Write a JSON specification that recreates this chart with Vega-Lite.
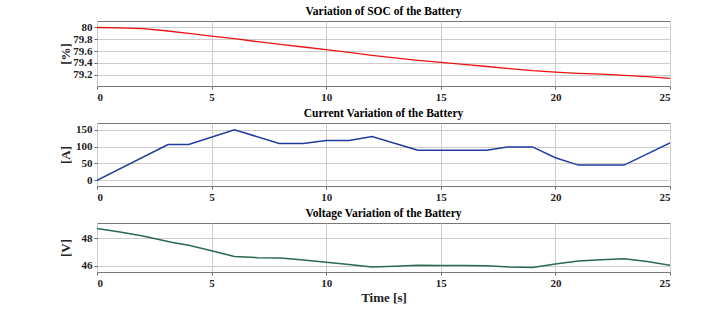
{
  "$schema": "https://vega.github.io/schema/vega-lite/v6.json",
  "background": "white",
  "padding": {"left": 58, "top": 5, "right": 40, "bottom": 5},
  "spacing": 4,
  "datasets": {
    "soc": [
      {"t": 0, "v": 80.0}, {"t": 1, "v": 79.995}, {"t": 2, "v": 79.98}, {"t": 3, "v": 79.945},
      {"t": 4, "v": 79.9}, {"t": 5, "v": 79.855}, {"t": 6, "v": 79.81}, {"t": 7, "v": 79.76},
      {"t": 8, "v": 79.715}, {"t": 9, "v": 79.67}, {"t": 10, "v": 79.625}, {"t": 11, "v": 79.58},
      {"t": 12, "v": 79.53}, {"t": 13, "v": 79.485}, {"t": 14, "v": 79.445}, {"t": 15, "v": 79.41},
      {"t": 16, "v": 79.375}, {"t": 17, "v": 79.34}, {"t": 18, "v": 79.305}, {"t": 19, "v": 79.27},
      {"t": 20, "v": 79.245}, {"t": 21, "v": 79.225}, {"t": 22, "v": 79.21}, {"t": 23, "v": 79.19},
      {"t": 24, "v": 79.17}, {"t": 25, "v": 79.14}
    ],
    "current": [
      {"t": 0, "v": 0}, {"t": 3.1, "v": 106}, {"t": 4, "v": 106}, {"t": 6, "v": 150},
      {"t": 7.95, "v": 109}, {"t": 9, "v": 109}, {"t": 10, "v": 118}, {"t": 11, "v": 118},
      {"t": 12, "v": 130}, {"t": 14, "v": 89}, {"t": 17, "v": 89}, {"t": 17.9, "v": 99},
      {"t": 19, "v": 99}, {"t": 20, "v": 67}, {"t": 21, "v": 45}, {"t": 23, "v": 45},
      {"t": 25, "v": 111}
    ],
    "voltage": [
      {"t": 0, "v": 48.7}, {"t": 1, "v": 48.45}, {"t": 2, "v": 48.15}, {"t": 2.7, "v": 47.9},
      {"t": 3.3, "v": 47.68}, {"t": 4, "v": 47.48}, {"t": 5, "v": 47.08}, {"t": 6, "v": 46.66},
      {"t": 7, "v": 46.58}, {"t": 8, "v": 46.55}, {"t": 9, "v": 46.42}, {"t": 10, "v": 46.25},
      {"t": 11, "v": 46.08}, {"t": 12, "v": 45.9}, {"t": 13, "v": 45.95}, {"t": 14, "v": 46.03},
      {"t": 15, "v": 46.02}, {"t": 16, "v": 46.01}, {"t": 17, "v": 46.0}, {"t": 18, "v": 45.9},
      {"t": 19, "v": 45.87}, {"t": 20, "v": 46.12}, {"t": 21, "v": 46.34}, {"t": 22, "v": 46.43},
      {"t": 23, "v": 46.5}, {"t": 24, "v": 46.3}, {"t": 25, "v": 46.03}
    ]
  },
  "config": {
    "font": "Liberation Serif",
    "view": {"stroke": "#777777", "strokeWidth": 1},
    "title": {"font": "Liberation Serif", "fontSize": 11.5, "fontWeight": "bold", "color": "#000000", "offset": 4},
    "axis": {
      "labelFont": "Liberation Serif", "labelFontSize": 11, "labelFontWeight": "bold", "labelColor": "#222222",
      "titleFont": "Liberation Serif", "titleFontSize": 13, "titleFontWeight": "bold", "titleColor": "#222222",
      "domain": false, "ticks": true, "tickSize": 3, "tickColor": "#666666", "gridColor": "#cccccc", "gridWidth": 1, "gridOpacity": 1,
      "labelPadding": 2, "labelOverlap": false
    },
    "axisY": {"minExtent": 22, "maxExtent": 22, "titlePadding": 3}
  },
  "vconcat": [
    {
      "width": 573, "height": 65,
      "title": "Variation of SOC of the Battery",
      "data": {"name": "soc"},
      "mark": {"type": "line", "color": "#ee1111", "strokeWidth": 1.3, "clip": true},
      "encoding": {
        "x": {"field": "t", "type": "quantitative", "scale": {"domain": [0, 25], "nice": false}, "axis": {"values": [0, 5, 10, 15, 20, 25], "title": null}},
        "y": {"field": "v", "type": "quantitative", "scale": {"domain": [79.01, 80.11], "nice": false, "zero": false}, "axis": {"values": [79.2, 79.4, 79.6, 79.8, 80], "format": "~f", "title": "[%]"}}
      }
    },
    {
      "width": 573, "height": 63,
      "title": "Current Variation of the Battery",
      "data": {"name": "current"},
      "mark": {"type": "line", "color": "#1f3a9e", "strokeWidth": 1.5, "clip": true},
      "encoding": {
        "x": {"field": "t", "type": "quantitative", "scale": {"domain": [0, 25], "nice": false}, "axis": {"values": [0, 5, 10, 15, 20, 25], "title": null}},
        "y": {"field": "v", "type": "quantitative", "scale": {"domain": [-17, 170], "nice": false, "zero": false}, "axis": {"values": [0, 50, 100, 150], "title": "[A]"}}
      }
    },
    {
      "width": 573, "height": 49,
      "title": "Voltage Variation of the Battery",
      "data": {"name": "voltage"},
      "mark": {"type": "line", "color": "#2a6b4c", "strokeWidth": 1.5, "clip": true},
      "encoding": {
        "x": {"field": "t", "type": "quantitative", "scale": {"domain": [0, 25], "nice": false}, "axis": {"values": [0, 5, 10, 15, 20, 25], "title": "Time [s]", "titlePadding": 3}},
        "y": {"field": "v", "type": "quantitative", "scale": {"domain": [45.54, 49.1], "nice": false, "zero": false}, "axis": {"values": [46, 48], "title": "[V]"}}
      }
    }
  ]
}
